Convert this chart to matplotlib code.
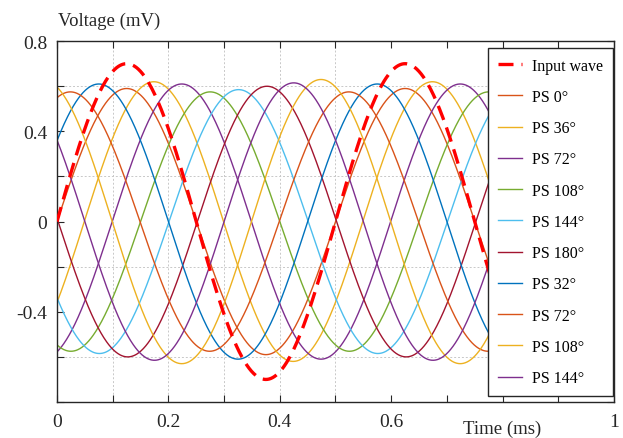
import numpy as np
import matplotlib
matplotlib.use("Agg")
import matplotlib.pyplot as plt

# Waveform parameters (time in ms, voltage in mV)
period = 0.5
input_amp = 0.70
input_peak = 0.125

ps_labels = ["PS 0°", "PS 36°", "PS 72°", "PS 108°", "PS 144°",
             "PS 180°", "PS 32°", "PS 72°", "PS 108°", "PS 144°"]
ps_peaks = [0.125, 0.174, 0.224, 0.275, 0.326, 0.377, 0.075, 0.024, 0.474, 0.425]
ps_amps = [0.59, 0.62, 0.61, 0.575, 0.585, 0.60, 0.61, 0.575, 0.63, 0.615]
ps_colors = ["#D95319", "#EDB120", "#7E2F8E", "#77AC30", "#4DBEEE",
             "#A2142F", "#0072BD", "#D95319", "#EDB120", "#7E2F8E"]

# 0.8 label is covered by the axis title in the original
x_ticks = [0, 0.2, 0.4, 0.6, 0.8, 1]
x_labels = ["0", "0.2", "0.4", "0.6", "", "1"]
y_ticks = [-0.8, -0.4, 0, 0.4, 0.8]
y_labels = ["", "-0.4", "0", "0.4", "0.8"]

plt.rcParams["font.family"] = ["Liberation Serif", "DejaVu Serif"]

fig = plt.figure(figsize=(6.23, 4.39), dpi=100)
ax = fig.add_axes([0.0915, 0.082, 0.894, 0.822])

t = np.linspace(0, 1, 1001)

# light grid (only where the original shows it)
for yv in [-0.6, -0.2, 0.2, 0.6]:
    ax.axhline(yv, color="#c8c8c8", lw=0.7, ls=(0, (2, 2)), zorder=0)
for xv in [0.1, 0.2, 0.3, 0.4, 0.5]:
    ax.axvline(xv, color="#c8c8c8", lw=0.7, ls=(0, (2, 2)), zorder=0)

handles = []
for lab, pk, amp, col in zip(ps_labels, ps_peaks, ps_amps, ps_colors):
    h, = ax.plot(t, amp * np.cos(2 * np.pi * (t - pk) / period),
                 color=col, lw=1.0, label=lab, zorder=2)
    handles.append(h)

h_in, = ax.plot(t, input_amp * np.cos(2 * np.pi * (t - input_peak) / period),
                color="#FF0000", lw=2.4, ls=(0, (4.5, 2.4)), label="Input wave", zorder=3)
handles = [h_in] + handles

ax.set_xlim(0, 1)
ax.set_ylim(-0.8, 0.8)
ax.set_xticks(x_ticks)
ax.set_xticklabels(x_labels)
ax.set_xticks(np.arange(0.1, 1, 0.2), minor=True)
ax.set_yticks(y_ticks)
ax.set_yticklabels(y_labels)
ax.set_yticks([-0.6, -0.2, 0.2, 0.6], minor=True)
ax.tick_params(which="both", direction="in", top=True, right=True,
               labelsize=14, colors="#262626")
ax.tick_params(which="both", length=5, width=0.8)
ax.tick_params(axis="x", pad=8)
ax.tick_params(axis="y", pad=7)
for s in ax.spines.values():
    s.set_color("#262626")
    s.set_linewidth(1.0)

ax.text(0.002, 1.035, "Voltage (mV)", transform=ax.transAxes, fontsize=13.5,
        ha="left", va="bottom", color="#262626")
ax.text(0.80, -0.072, "Time (ms)", transform=ax.transAxes, fontsize=13.5,
        ha="center", va="center", color="#262626")

leg = ax.legend(handles=handles, loc="upper right", bbox_to_anchor=(0.998, 0.981),
                borderaxespad=0, fontsize=11.5, frameon=True, fancybox=False,
                labelspacing=0.955, handlelength=1.55, handletextpad=0.62,
                borderpad=0.6)
leg.get_frame().set_edgecolor("#262626")
leg.get_frame().set_linewidth(1.0)
leg.get_frame().set_alpha(1)

fig.savefig("out.png", dpi=100)
